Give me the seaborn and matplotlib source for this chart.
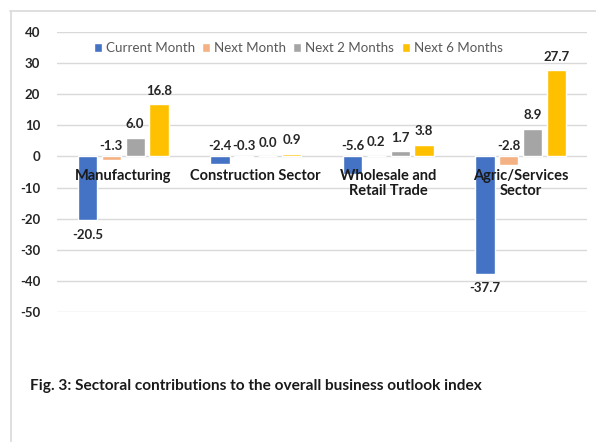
import matplotlib
matplotlib.use("Agg")
import matplotlib.pyplot as plt
import seaborn as sns
import pandas as pd
from matplotlib.lines import Line2D

sectors = ["Manufacturing", "Construction Sector", "Wholesale and\nRetail Trade", "Agric/Services\nSector"]
periods = ["Current Month", "Next Month", "Next 2 Months", "Next 6 Months"]
current_month = [-20.5, -2.4, -5.6, -37.7]
next_month = [-1.3, -0.3, 0.2, -2.8]
next_2_months = [6.0, 0.0, 1.7, 8.9]
next_6_months = [16.8, 0.9, 3.8, 27.7]
yticks = [40, 30, 20, 10, 0, -10, -20, -30, -40, -50]

colors = ["#4472C4", "#F4B183", "#A5A5A5", "#FFC000"]
series = [current_month, next_month, next_2_months, next_6_months]

rows = []
for p, vals in zip(periods, series):
    for s, v in zip(sectors, vals):
        rows.append({"sector": s, "period": p, "value": v})
df = pd.DataFrame(rows)

sns.set_theme(style="white")
plt.rcParams["font.family"] = ["Lato", "DejaVu Sans"]

fig = plt.figure(figsize=(5.96, 4.42), dpi=100)
W, H = 596, 442
ax = fig.add_axes([57 / W, 1 - 312 / H, (587 - 57) / W, (312 - 32) / H])

sns.barplot(data=df, x="sector", y="value", hue="period", palette=colors,
            hue_order=periods, order=sectors, width=0.72, gap=0.2,
            ax=ax, legend=True, errorbar=None, saturation=1)

handles, labels = ax.get_legend_handles_labels()
if ax.get_legend() is not None:
    ax.get_legend().remove()

ax.set_ylim(-50, 40)
ax.set_yticks(yticks)
ax.set_yticklabels([str(t) for t in yticks], fontsize=9.5, fontweight="bold", color="#262626")
ax.yaxis.grid(True, color="#D9D9D9", linewidth=1)
ax.set_axisbelow(True)
ax.xaxis.set_zorder(5)
for sp in ax.spines.values():
    sp.set_visible(False)
ax.spines["bottom"].set_position(("data", 0))
ax.tick_params(axis="x", length=0, pad=9)
ax.tick_params(axis="y", length=0, pad=12)
ax.set_xticks(range(len(sectors)))
ax.set_xticklabels(sectors, fontsize=10.5, fontweight="bold", color="#1A1A1A", linespacing=1.1)
for t in ax.get_xticklabels():
    t.set_va("top")
ax.set_xlabel("")
ax.set_ylabel("")
ax.set_xlim(-0.5, len(sectors) - 0.5)

for cont, vals in zip(ax.containers, series):
    for bar, v in zip(cont, vals):
        x = bar.get_x() + bar.get_width() / 2
        if v >= 0:
            y, off = v, 9.7
        elif v > -10:
            y, off = 0, 7.4
        else:
            y, off = v, -10.5
        ax.annotate(f"{v:.1f}", xy=(x, y), xytext=(0, off), textcoords="offset points",
                    ha="center", va="center", fontsize=9.5, fontweight="bold", color="#262626")

fig.legend(handles, labels, loc="center", bbox_to_anchor=(298 / W, 1 - 48 / H), ncol=4,
           frameon=False, fontsize=9.6, labelcolor="#595959", handlelength=0.6, handleheight=0.6,
           handletextpad=0.3, columnspacing=0.55)

fig.text(30 / W, 1 - 386 / H, "Fig. 3: Sectoral contributions to the overall business outlook index",
         fontsize=11.1, fontweight="bold", color="#1A1A1A", va="center", ha="left")

fig.add_artist(Line2D([10 / W, 1], [1 - 11 / H, 1 - 11 / H], color="#D9D9D9", linewidth=1.2))
fig.add_artist(Line2D([11 / W, 11 / W], [0, 1 - 11 / H], color="#D9D9D9", linewidth=1.2))

fig.savefig("out.png", dpi=100)
